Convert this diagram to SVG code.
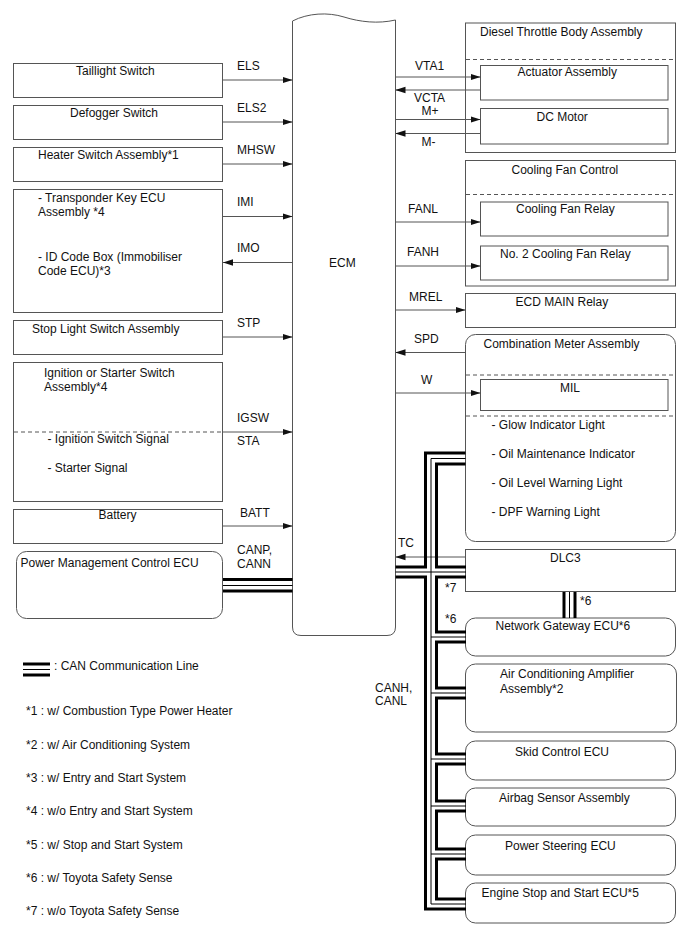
<svg xmlns="http://www.w3.org/2000/svg" width="688" height="949" viewBox="0 0 688 949">
<defs>
<style>
text{font-family:"Liberation Sans",Arial,sans-serif;font-size:12px;fill:#111}
.box{fill:#fff;stroke:#555;stroke-width:1}
.dash{fill:none;stroke:#555;stroke-width:1;stroke-dasharray:4 3}
.ar{fill:none;stroke:#555;stroke-width:1;marker-end:url(#ah)}
.tk{fill:none;stroke:#000;stroke-width:3}
.tn{fill:none;stroke:#000;stroke-width:1}
</style>
<marker id="ah" markerUnits="userSpaceOnUse" markerWidth="10" markerHeight="8" refX="10" refY="4" orient="auto">
<path d="M0,0.8 L10,4 L0,7.2 Z" fill="#111"/>
</marker>
</defs>
<rect width="688" height="949" fill="#fff"/>

<g id="ecm">
<path class="box" d="M292.5,21 C308,13 328,12 344,17 C360,22 378,24 395.5,20 V627 Q395.5,635.5 387,635.5 H301 Q292.5,635.5 292.5,627 Z"/>
<text x="329" y="267">ECM</text>
</g>

<g id="taillight"><rect class="box" x="13.5" y="63.5" width="209" height="34"/><text x="76" y="75">Taillight Switch</text></g>
<g id="defogger"><rect class="box" x="13.5" y="105.5" width="209" height="34"/><text x="70" y="117">Defogger Switch</text></g>
<g id="heater"><rect class="box" x="13.5" y="147.5" width="209" height="34"/><text x="38" y="159">Heater Switch Assembly*1</text></g>
<g id="transponder"><rect class="box" x="13.5" y="189.5" width="209" height="123"/>
<text x="38" y="201.5">- Transponder Key ECU</text><text x="38" y="216">Assembly *4</text>
<text x="38" y="261">- ID Code Box (Immobiliser</text><text x="38" y="275">Code ECU)*3</text></g>
<g id="stoplight"><rect class="box" x="13.5" y="320.5" width="209" height="34"/><text x="32" y="332.5">Stop Light Switch Assembly</text></g>
<g id="ignition"><rect class="box" x="13.5" y="362.5" width="209" height="139"/>
<text x="44" y="377">Ignition or Starter Switch</text><text x="44" y="391">Assembly*4</text>
<line class="dash" x1="14" y1="432" x2="222.5" y2="432"/>
<text x="47.5" y="443">- Ignition Switch Signal</text><text x="47.5" y="471.5">- Starter Signal</text></g>
<g id="battery"><rect class="box" x="13.5" y="509.5" width="209" height="34"/><text x="98.5" y="519">Battery</text></g>
<g id="pmc"><rect class="box" x="16.5" y="551.5" width="206" height="67" rx="10"/><text x="20.5" y="567">Power Management Control ECU</text></g>

<g id="throttle"><rect class="box" x="465.5" y="23" width="210" height="129.5"/><text x="480" y="36">Diesel Throttle Body Assembly</text>
<line class="dash" x1="466" y1="59.5" x2="675" y2="59.5"/></g>
<g id="actuator"><rect class="box" x="480.5" y="65.5" width="187.5" height="34.5"/><text x="517.5" y="76">Actuator Assembly</text></g>
<g id="dcmotor"><rect class="box" x="480.5" y="108.5" width="187.5" height="35.5"/><text x="536.5" y="120.5">DC Motor</text></g>
<g id="fanctl"><rect class="box" x="465.5" y="160.5" width="210" height="125.5"/><text x="511.5" y="174">Cooling Fan Control</text>
<line class="dash" x1="466" y1="194.5" x2="675" y2="194.5"/></g>
<g id="fanrelay"><rect class="box" x="480.5" y="202" width="187.5" height="34"/><text x="516" y="213">Cooling Fan Relay</text></g>
<g id="fanrelay2"><rect class="box" x="480.5" y="246" width="187.5" height="34"/><text x="500" y="258">No. 2 Cooling Fan Relay</text></g>
<g id="ecdmain"><rect class="box" x="465.5" y="293.5" width="210" height="34"/><text x="515.5" y="306">ECD MAIN Relay</text></g>
<g id="meter"><rect class="box" x="465.5" y="334.5" width="210" height="207" rx="10"/><text x="483.5" y="348">Combination Meter Assembly</text>
<line class="dash" x1="466" y1="375" x2="675" y2="375"/>
<line class="dash" x1="466" y1="416" x2="675" y2="416"/>
<text x="491.5" y="429">- Glow Indicator Light</text><text x="491.5" y="457.5">- Oil Maintenance Indicator</text>
<text x="491.5" y="486.5">- Oil Level Warning Light</text><text x="491.5" y="515.5">- DPF Warning Light</text></g>
<g id="mil"><rect class="box" x="480.5" y="379.5" width="187.5" height="31"/><text x="560" y="391.5">MIL</text></g>
<g id="dlc3"><rect class="box" x="465.5" y="549.5" width="210" height="42"/><text x="550" y="561.5">DLC3</text></g>
<g id="gateway"><rect class="box" x="465.5" y="618" width="210" height="38" rx="10"/><text x="495.5" y="630">Network Gateway ECU*6</text></g>
<g id="aircon"><rect class="box" x="465.5" y="664" width="211" height="68" rx="10"/><text x="500" y="678">Air Conditioning Amplifier</text><text x="500" y="692.5">Assembly*2</text></g>
<g id="skid"><rect class="box" x="465.5" y="741" width="210" height="39" rx="10"/><text x="515" y="756">Skid Control ECU</text></g>
<g id="airbag"><rect class="box" x="465.5" y="788" width="210" height="38" rx="10"/><text x="499" y="801.5">Airbag Sensor Assembly</text></g>
<g id="steering"><rect class="box" x="465.5" y="835" width="210" height="40" rx="10"/><text x="505" y="850">Power Steering ECU</text></g>
<g id="stopstart"><rect class="box" x="465.5" y="883" width="210" height="40" rx="10"/><text x="481.5" y="897">Engine Stop and Start ECU*5</text></g>

<g id="connectors">
<line class="ar" x1="223" y1="80" x2="292.5" y2="80"/><text x="237" y="69.5">ELS</text>
<line class="ar" x1="223" y1="122" x2="292.5" y2="122"/><text x="237" y="111.5">ELS2</text>
<line class="ar" x1="223" y1="164" x2="292.5" y2="164"/><text x="237" y="154">MHSW</text>
<line class="ar" x1="223" y1="216.5" x2="292.5" y2="216.5"/><text x="237" y="206">IMI</text>
<line class="ar" x1="292.5" y1="262.5" x2="223" y2="262.5"/><text x="237" y="251.5">IMO</text>
<line class="ar" x1="223" y1="337" x2="292.5" y2="337"/><text x="237" y="326.5">STP</text>
<line class="ar" x1="223" y1="432" x2="292.5" y2="432"/><text x="237" y="421.5">IGSW</text><text x="237" y="445">STA</text>
<line class="ar" x1="223" y1="526" x2="292.5" y2="526"/><text x="240" y="516.5">BATT</text>
<text x="237" y="553.5">CANP,</text><text x="237" y="567.5">CANN</text>
<line class="tk" x1="223" y1="579.5" x2="292.5" y2="579.5"/>
<line class="tn" x1="223" y1="585.5" x2="292.5" y2="585.5"/>
<line class="tk" x1="223" y1="591" x2="292.5" y2="591"/>

<line class="ar" x1="395.5" y1="77" x2="480.5" y2="77"/><text x="415" y="70">VTA1</text>
<line class="ar" x1="480.5" y1="90" x2="395.5" y2="90"/><text x="414" y="101.5">VCTA</text>
<line class="ar" x1="395.5" y1="119.5" x2="480.5" y2="119.5"/><text x="421.5" y="115">M+</text>
<line class="ar" x1="480.5" y1="133.5" x2="395.5" y2="133.5"/><text x="421.5" y="145.5">M-</text>
<line class="ar" x1="395.5" y1="222" x2="480.5" y2="222"/><text x="408" y="212.5">FANL</text>
<line class="ar" x1="395.5" y1="266" x2="480.5" y2="266"/><text x="407" y="256">FANH</text>
<line class="ar" x1="395.5" y1="310" x2="465.5" y2="310"/><text x="409" y="300.5">MREL</text>
<line class="ar" x1="465.5" y1="352.5" x2="395.5" y2="352.5"/><text x="414" y="342.5">SPD</text>
<line class="ar" x1="395.5" y1="393" x2="480.5" y2="393"/><text x="421" y="384">W</text>
<line class="ar" x1="465.5" y1="557" x2="395.5" y2="557"/><text x="398" y="547">TC</text>

<path class="tk" d="M465.5,453 H425.5 V567 H395.5"/>
<path class="tk" d="M395.5,577 H425.5 V909 H466"/>
<path class="tk" d="M465.5,464 H436.5 V567 H466"/>
<path class="tk" d="M466,577 H436.5 V632 H466"/>
<path class="tk" d="M466,642 H436.5 V688 H466"/>
<path class="tk" d="M466,698 H436.5 V754 H466"/>
<path class="tk" d="M466,764 H436.5 V801 H466"/>
<path class="tk" d="M466,811 H436.5 V849 H466"/>
<path class="tk" d="M466,859 H436.5 V899 H466"/>
<path class="tn" d="M465.5,458.5 H431 V904 H466"/>
<line class="tn" x1="395.5" y1="572" x2="466" y2="572"/>
<line class="tn" x1="431" y1="637" x2="466" y2="637"/>
<line class="tn" x1="431" y1="693" x2="466" y2="693"/>
<line class="tn" x1="431" y1="759" x2="466" y2="759"/>
<line class="tn" x1="431" y1="806" x2="466" y2="806"/>
<line class="tn" x1="431" y1="854" x2="466" y2="854"/>
<line class="tk" x1="564" y1="592" x2="564" y2="618"/>
<line class="tn" x1="569.5" y1="592" x2="569.5" y2="618"/>
<line class="tk" x1="575" y1="592" x2="575" y2="618"/>
<text x="445" y="592">*7</text><text x="445" y="623">*6</text><text x="580" y="605">*6</text>
<text x="375" y="691.5">CANH,</text><text x="375" y="705">CANL</text>
</g>

<g id="legend">
<line class="tk" x1="23" y1="664" x2="50" y2="664"/>
<line class="tn" x1="23" y1="669.5" x2="50" y2="669.5"/>
<line class="tk" x1="23" y1="675" x2="50" y2="675"/>
<text x="54" y="670">: CAN Communication Line</text>
<text x="26" y="715">*1 : w/ Combustion Type Power Heater</text>
<text x="26" y="748.5">*2 : w/ Air Conditioning System</text>
<text x="26" y="781.5">*3 : w/ Entry and Start System</text>
<text x="26" y="815">*4 : w/o Entry and Start System</text>
<text x="26" y="848.5">*5 : w/ Stop and Start System</text>
<text x="26" y="881.5">*6 : w/ Toyota Safety Sense</text>
<text x="26" y="914.5">*7 : w/o Toyota Safety Sense</text>
</g>
</svg>
